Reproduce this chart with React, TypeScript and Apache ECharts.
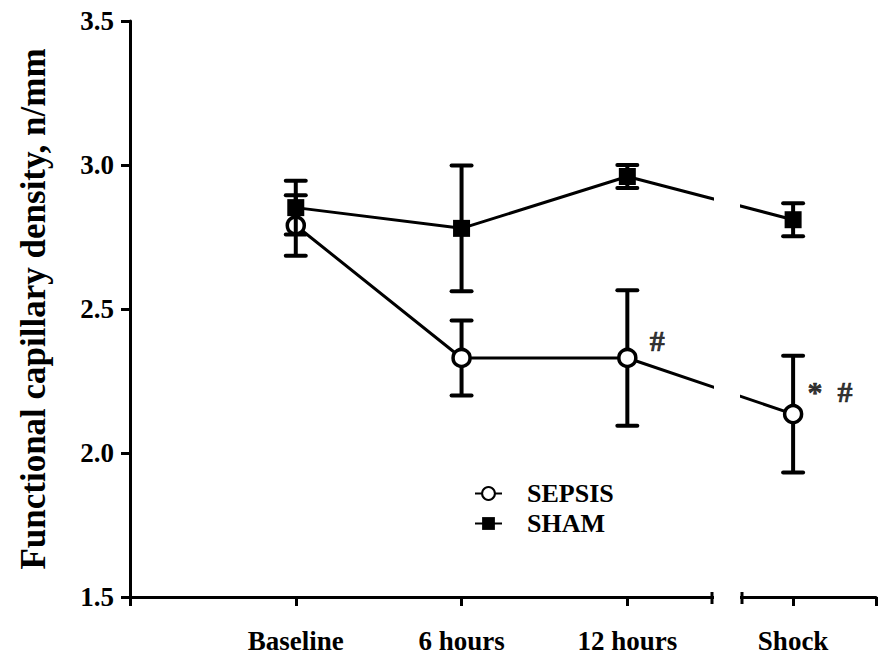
import React, { useEffect, useRef } from "react";
import * as echarts from "echarts";

// Time points along the x axis
const categories = ["Baseline", "6 hours", "12 hours", "Shock"];
const xPositions = [1, 2, 3, 4];

// Functional capillary density (n/mm), mean and SEM
const sepsisMean = [2.79, 2.33, 2.33, 2.135];
const sepsisSem = [0.105, 0.13, 0.235, 0.203];
const shamMean = [2.852, 2.78, 2.96, 2.81];
const shamSem = [0.093, 0.218, 0.04, 0.057];

// Significance marks next to SEPSIS points
const marks = [
  { index: 2, text: "#" },
  { index: 3, text: "*  #" },
];

const yTicks = { min: 1.5, max: 3.5, step: 0.5 };

const FONT = "'Liberation Serif', 'Times New Roman', serif";

function errorBarSeries(name: string, mean: number[], sem: number[], z: number) {
  return {
    type: "custom",
    name: name + " SEM",
    z,
    silent: true,
    data: xPositions.map((x, i) => [x, mean[i] - sem[i], mean[i] + sem[i]]),
    renderItem: (_params: any, api: any) => {
      const x = api.value(0);
      const lo = api.coord([x, api.value(1)]);
      const hi = api.coord([x, api.value(2)]);
      const hw = 10;
      const style = { stroke: "#000", lineWidth: 4 };
      return {
        type: "group",
        children: [
          { type: "line", shape: { x1: lo[0], y1: lo[1], x2: hi[0], y2: hi[1] }, style },
          { type: "line", shape: { x1: lo[0] - hw, y1: lo[1], x2: lo[0] + hw, y2: lo[1] }, style: { ...style, lineCap: "round" } },
          { type: "line", shape: { x1: hi[0] - hw, y1: hi[1], x2: hi[0] + hw, y2: hi[1] }, style: { ...style, lineCap: "round" } },
        ],
      };
    },
  };
}

export default function App() {
  const ref = useRef<HTMLDivElement>(null);

  useEffect(() => {
    if (!ref.current) return;
    const chart = echarts.init(ref.current, undefined, { renderer: "svg" });

    // Axis break between "12 hours" and "Shock"
    const breakLeft = 714;
    const breakRight = 740;
    const axisY = 598;

    chart.setOption({
      animation: false,
      backgroundColor: "#fff",
      grid: { left: 130, right: 1, top: 21, bottom: 56, containLabel: false },
      xAxis: {
        type: "value",
        min: 0,
        max: 4.5,
        interval: 1,
        splitLine: { show: false },
        axisLine: { lineStyle: { color: "#000", width: 3 } },
        axisTick: { show: true, length: 9, lineStyle: { color: "#000", width: 3 } },
        axisLabel: {
          margin: 30,
          color: "#000",
          fontFamily: FONT,
          fontWeight: "bold",
          fontSize: 27,
          formatter: (v: number) => {
            const i = xPositions.indexOf(v);
            return i >= 0 ? categories[i] : "";
          },
        },
      },
      yAxis: {
        type: "value",
        min: yTicks.min,
        max: yTicks.max,
        interval: yTicks.step,
        name: "Functional capillary density, n/mm",
        nameLocation: "middle",
        nameGap: 79,
        nameTextStyle: { color: "#000", fontFamily: FONT, fontWeight: "bold", fontSize: 35 },
        splitLine: { show: false },
        axisLine: { show: true, lineStyle: { color: "#000", width: 3 } },
        axisTick: { show: true, length: 9, lineStyle: { color: "#000", width: 3 } },
        axisLabel: {
          margin: 16,
          color: "#000",
          fontFamily: FONT,
          fontWeight: "bold",
          fontSize: 27,
          formatter: (v: number) => v.toFixed(1),
        },
      },
      legend: {
        orient: "vertical",
        left: 469,
        top: 475,
        data: ["SEPSIS", "SHAM"],
        itemWidth: 27,
        itemHeight: 16,
        itemGap: 3,
        textStyle: {
          color: "#000",
          fontFamily: FONT,
          fontWeight: "bold",
          fontSize: 26,
          lineHeight: 27,
          padding: [0, 0, 0, 20],
        },
      },
      series: [
        errorBarSeries("SEPSIS", sepsisMean, sepsisSem, 2),
        {
          type: "line",
          name: "SEPSIS",
          z: 3,
          data: xPositions.map((x, i) => [x, sepsisMean[i]]),
          symbol: "circle",
          symbolSize: 17,
          lineStyle: { color: "#000", width: 3 },
          itemStyle: { color: "#fff", borderColor: "#000", borderWidth: 3.5 },
        },
        errorBarSeries("SHAM", shamMean, shamSem, 4),
        {
          type: "line",
          name: "SHAM",
          z: 5,
          data: xPositions.map((x, i) => [x, shamMean[i]]),
          symbol: "rect",
          symbolSize: 17,
          lineStyle: { color: "#000", width: 3 },
          itemStyle: { color: "#000", borderColor: "#000", borderWidth: 0 },
        },
        {
          type: "scatter",
          name: "marks",
          z: 6,
          silent: true,
          symbolSize: 0,
          data: marks.map((m) => ({
            value: [xPositions[m.index], sepsisMean[m.index]],
            label: {
              show: true,
              formatter: m.text,
              position: "inside",
              offset: m.index === 2 ? [30, -17] : [37, -23],
              color: "#000",
              fontFamily: FONT,
              fontWeight: "bold",
              fontSize: 30,
              textBorderColor: "#000",
              textBorderWidth: 0.6,
            },
          })),
        },
      ],
      graphic: [
        {
          type: "rect",
          z: 100,
          silent: true,
          shape: { x: breakLeft, y: 0, width: breakRight - breakLeft, height: axisY + 4 },
          style: { fill: "#fff" },
        },
        {
          type: "line",
          z: 101,
          silent: true,
          shape: { x1: breakLeft - 2, y1: axisY - 6, x2: breakLeft - 2, y2: axisY + 6 },
          style: { stroke: "#000", lineWidth: 3 },
        },
        {
          type: "line",
          z: 101,
          silent: true,
          shape: { x1: breakRight + 2, y1: axisY - 6, x2: breakRight + 2, y2: axisY + 6 },
          style: { stroke: "#000", lineWidth: 3 },
        },
      ],
    });

    return () => chart.dispose();
  }, []);

  return (
    <div
      ref={ref}
      style={{ position: "absolute", left: 0, top: 0, width: 879, height: 654 }}
    />
  );
}
